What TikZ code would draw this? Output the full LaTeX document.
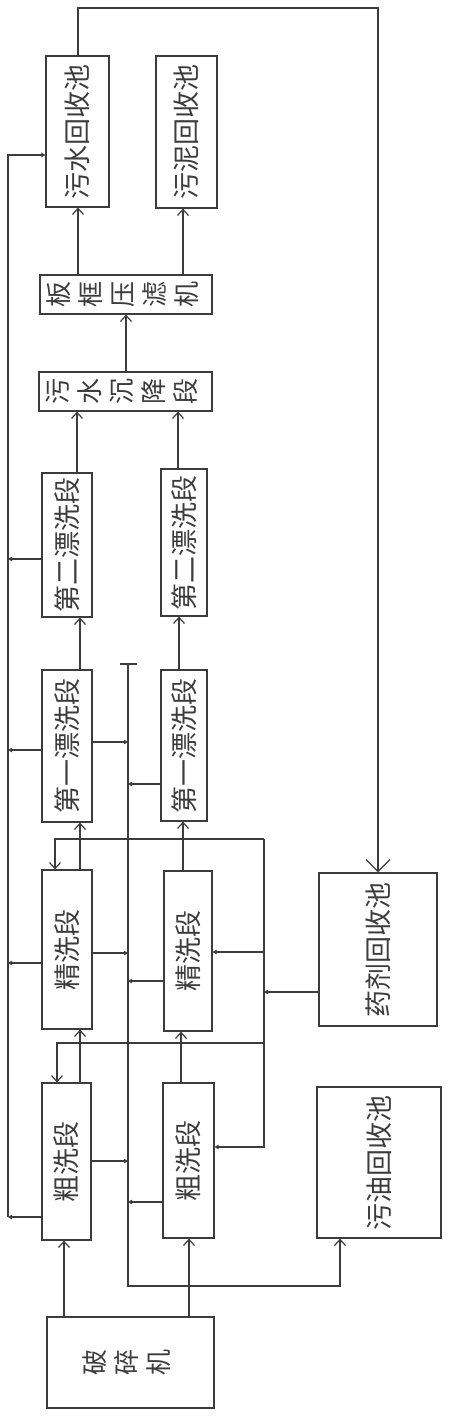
\documentclass[tikz,border=0pt]{standalone}
\usepackage{fontspec}
\usepackage{graphicx}
\newfontfamily\cjk{Noto Sans CJK SC}
\definecolor{lineg}{RGB}{60,60,60}
\definecolor{textg}{RGB}{60,60,60}
\usetikzlibrary{arrows.meta}

\newcommand{\vtxt}[1]{\rotatebox{90}{#1}}
\newcommand{\stk}[1]{\rotatebox{90}{\fontsize{26}{32}\selectfont\begin{tabular}{@{}c@{}}#1\end{tabular}}}

\begin{document}
\begin{tikzpicture}[x=1pt, y=-1pt,
  every node/.style={draw=lineg, line width=1.2pt, inner sep=0pt,
                     font=\cjk\fontsize{27}{32}\selectfont, text=textg},
  flow/.style={-{Straight Barb[length=6pt,width=11pt]}, lineg, line width=1.2pt},
  bigflow/.style={-{Straight Barb[length=12pt,width=24pt]}, lineg, line width=1.2pt},
  tap/.style={-{Triangle[length=4pt,width=4.5pt]}, lineg, line width=1.2pt},
  bus/.style={lineg, line width=1.2pt},
]
\useasboundingbox (0,0) rectangle (450,1417);

% === Recovery pools (top) ===
\node[minimum width=63pt, minimum height=151pt] (wpool) at (77.5,131.5) {\vtxt{污水回收池}};
\node[minimum width=61pt, minimum height=152pt] (spool) at (186.5,132) {\vtxt{污泥回收池}};

% === Press and settling ===
\node[minimum width=172pt, minimum height=39pt] (press) at (126,294.5) {\stk{板\\框\\压\\滤\\机}};
\node[minimum width=173pt, minimum height=39pt] (settle) at (125.5,391.5) {\stk{污\\水\\沉\\降\\段}};

% === Washing stages, left line ===
\node[minimum width=50pt, minimum height=144pt] (rinseBL) at (67,545) {\vtxt{第二漂洗段}};
\node[minimum width=50pt, minimum height=152pt] (rinseAL) at (67,746) {\vtxt{第一漂洗段}};
\node[minimum width=50pt, minimum height=159pt] (fineL) at (67,949.5) {\vtxt{精洗段}};
\node[minimum width=49pt, minimum height=157pt] (coarseL) at (66.5,1161.5) {\vtxt{粗洗段}};

% === Washing stages, right line ===
\node[minimum width=46pt, minimum height=147pt] (rinseBR) at (184,542.5) {\vtxt{第二漂洗段}};
\node[minimum width=46pt, minimum height=151pt] (rinseAR) at (184,745.5) {\vtxt{第一漂洗段}};
\node[minimum width=48pt, minimum height=160pt] (fineR) at (188,951) {\vtxt{精洗段}};
\node[minimum width=51pt, minimum height=155pt] (coarseR) at (188.5,1160.5) {\vtxt{粗洗段}};

% === Agent / oil pools and crusher ===
\node[minimum width=118pt, minimum height=153pt] (agent) at (378,949.5) {\vtxt{药剂回收池}};
\node[minimum width=124pt, minimum height=151pt] (oil) at (379,1162.5) {\vtxt{污油回收池}};
\node[minimum width=167pt, minimum height=91pt] (crusher) at (130.5,1362.5) {\stk{破\\碎\\机}};

% === Arrows: main flow ===
\draw[flow] (crusher.north -| 64,0) -- (coarseL.south -| 64,0);
\draw[flow] (crusher.north -| 189,0) -- (coarseR.south -| 189,0);
\draw[flow] (coarseL.north -| 80,0) -- (fineL.south -| 80,0);
\draw[flow] (coarseR.north -| 181,0) -- (fineR.south -| 181,0);
\draw[flow] (fineL.north -| 80,0) -- (rinseAL.south -| 80,0);
\draw[flow] (fineR.north -| 183,0) -- (rinseAR.south -| 183,0);
\draw[flow] (rinseAL.north -| 80,0) -- (rinseBL.south -| 80,0);
\draw[flow] (rinseAR.north -| 179,0) -- (rinseBR.south -| 179,0);
\draw[flow] (rinseBL.north -| 77,0) -- (settle.south -| 77,0);
\draw[flow] (rinseBR.north -| 178,0) -- (settle.south -| 178,0);
\draw[flow] (settle.north -| 126,0) -- (press.south -| 126,0);
\draw[flow] (press.north -| 78,0) -- (wpool.south -| 78,0);
\draw[flow] (press.north -| 183,0) -- (spool.south -| 183,0);

% === Left bus: waste water ===
\coordinate (lbus) at (8,1217);
\coordinate (ltop) at (8,155);
\draw[tap] (lbus) -- (ltop) -- (ltop -| wpool.west);
\draw[tap] (coarseL.west |- lbus) -- (lbus);
\draw[tap] (fineL.west |- 0,963) -- (lbus |- 0,963);
\draw[tap] (rinseAL.west |- 0,750) -- (lbus |- 0,750);
\draw[tap] (rinseBL.west |- 0,559) -- (lbus |- 0,559);

% === Middle bus: oil ===
\coordinate (mtop) at (128,664);
\coordinate (mbot) at (128,1286);
\draw[bus] ([xshift=-8pt]mtop) -- ([xshift=9pt]mtop);
\draw[flow] (mtop) -- (mbot) -| (oil.south -| 340,0);
\draw[tap] (rinseAL.east |- 0,742) -- (mtop |- 0,742);
\draw[tap] (rinseAR.west |- 0,784) -- (mtop |- 0,784);
\draw[tap] (fineL.east |- 0,953) -- (mtop |- 0,953);
\draw[tap] (fineR.west |- 0,981) -- (mtop |- 0,981);
\draw[tap] (coarseL.east |- 0,1161) -- (mtop |- 0,1161);
\draw[tap] (coarseR.west |- 0,1202) -- (mtop |- 0,1202);

% === Right bus: agent ===
\coordinate (rtop) at (264,839);
\coordinate (rbot) at (264,1147);
\draw[tap] (rtop) -- (rbot) -- (rbot -| coarseR.east);
\draw[flow] (rtop) -| (fineL.north -| 55,0);
\draw[flow] (rtop |- 0,1043) -| (coarseL.north -| 57,0);
\draw[tap] (rtop |- 0,952) -- (fineR.east |- 0,952);
\draw[tap] (agent.west |- 0,992) -- (rtop |- 0,992);

% === Return loop to agent pool ===
\coordinate (loop) at (78,8);
\draw[bigflow] (wpool.north -| loop) -- (loop) -| (agent.north);

\end{tikzpicture}
\end{document}
